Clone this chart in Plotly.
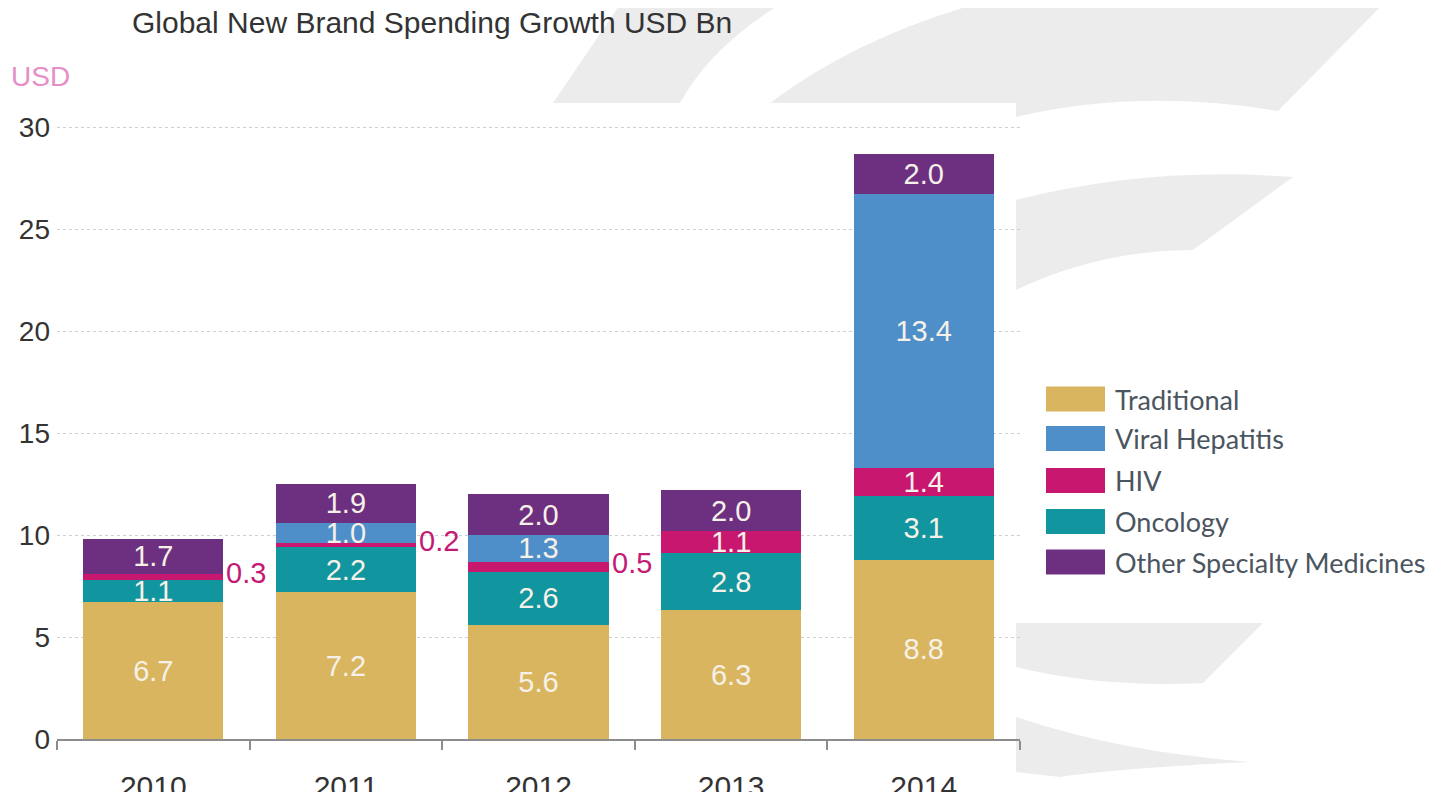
import plotly.graph_objects as go

# ---------------- data ----------------
years = ["2010", "2011", "2012", "2013", "2014"]
traditional = [6.7, 7.2, 5.6, 6.3, 8.8]
oncology = [1.1, 2.2, 2.6, 2.8, 3.1]
hiv = [0.3, 0.2, 0.5, 1.1, 1.4]
viral_hepatitis = [0.0, 1.0, 1.3, 0.0, 13.4]
other_specialty = [1.7, 1.9, 2.0, 2.0, 2.0]
hiv_label_outside = [True, True, True, False, False]
y_ticks = [0, 5, 10, 15, 20, 25, 30]

legend_order = ["Traditional", "Viral Hepatitis", "HIV", "Oncology", "Other Specialty Medicines"]
colors = {
    "Traditional": "#d9b560",
    "Viral Hepatitis": "#4f8fc9",
    "HIV": "#c8176f",
    "Oncology": "#11959f",
    "Other Specialty Medicines": "#6d2f80",
}
stack = [
    ("Traditional", traditional),
    ("Oncology", oncology),
    ("HIV", hiv),
    ("Viral Hepatitis", viral_hepatitis),
    ("Other Specialty Medicines", other_specialty),
]

# ---------------- layout geometry ----------------
# the page body adds an 8px margin, so figure coordinates are offset by 8px
OFF = 8
W, H = 1445, 792
PLOT_L, PLOT_R, PLOT_T, PLOT_B = 57, 1020, 103, 739   # target screen pixels
ML = PLOT_L - OFF
MT = PLOT_T - OFF
MR = W - (PLOT_R - OFF)
MB = H - (PLOT_B - OFF)
PW, PH = W - ML - MR, H - MT - MB
YMAX = 31.18


def px(x, y):
    """screen pixel -> paper coordinate"""
    return (x - OFF - ML) / PW, (H - MB - (y - OFF)) / PH


def path(cmds):
    out = []
    for c in cmds:
        if isinstance(c, str):
            out.append(c)
        else:
            xx, yy = px(*c)
            out.append(f"{xx:.4f},{yy:.4f}")
    return " ".join(out)


LABEL_FONT = "Liberation Sans, Arial, sans-serif"

fig = go.Figure()

for name, vals in stack:
    texts = []
    for i, v in enumerate(vals):
        if v == 0 or (name == "HIV" and hiv_label_outside[i]):
            texts.append("")
        else:
            texts.append(f"{v:.1f}")
    fig.add_trace(go.Bar(
        x=years, y=vals, name=name,
        marker=dict(color=colors[name], line=dict(width=0)),
        text=texts, textposition="inside", insidetextanchor="middle",
        textangle=0,
        textfont=dict(family=LABEL_FONT, size=29, color="#f6f1e8"),
        showlegend=False, hoverinfo="x+y+name",
    ))

annotations = []
# outside HIV labels (x given as category index)
for i, y in enumerate(years):
    if hiv_label_outside[i]:
        base = traditional[i] + oncology[i]
        annotations.append(dict(
            x=i, y=base + hiv[i] / 2, xref="x", yref="y",
            text=f"{hiv[i]:.1f}", showarrow=False, xanchor="left", yanchor="middle",
            xshift=71, yshift=4,
            font=dict(family=LABEL_FONT, size=29, color="#c21a75"),
        ))

# title and unit label
tx, ty = px(130, 22)
annotations.append(dict(x=tx, y=ty, xref="paper", yref="paper", xanchor="left", yanchor="middle",
                        text="Global New Brand Spending Growth USD Bn", showarrow=False,
                        font=dict(family=LABEL_FONT, size=30, color="#333333")))
ux, uy = px(9, 77)
annotations.append(dict(x=ux, y=uy, xref="paper", yref="paper", xanchor="left", yanchor="middle",
                        text="USD", showarrow=False,
                        font=dict(family=LABEL_FONT, size=28, color="#e58fc6")))

shapes = []
grey = "#ececec"
# decorative background swooshes
swooshes = [
    ["M", (553, 103), "L", (623, 0), "L", (787, 0), "Q", (712, 45), (680, 103), "Z"],
    ["M", (770, 103), "Q", (860, 35), (990, 0), "L", (1387, 0), "L", (1278, 111),
     "Q", (1140, 88), (1016, 117), "L", (1016, 103), "Z"],
    ["M", (1016, 200), "Q", (1150, 166), (1293, 177), "L", (1193, 250),
     "Q", (1100, 250), (1016, 290), "Z"],
    ["M", (1016, 623), "L", (1263, 623), "L", (1203, 683), "Q", (1100, 688), (1016, 667), "Z"],
    ["M", (1016, 717), "Q", (1120, 752), (1250, 762), "Q", (1120, 768), (1060, 777),
     "L", (1016, 772), "Z"],
]
for s in swooshes:
    shapes.append(dict(type="path", xref="paper", yref="paper", path=path(s),
                       fillcolor=grey, line=dict(width=0), layer="below"))
# white plot panel
x0, y0 = px(50, 800)
x1, y1 = px(1016, 103)
shapes.append(dict(type="rect", xref="paper", yref="paper", x0=x0, y0=y0, x1=x1, y1=y1,
                   fillcolor="white", line=dict(width=0), layer="below"))

# custom legend (large swatches)
leg_y = [399, 438.5, 480.5, 521.5, 562]
for name, cy in zip(legend_order, leg_y):
    a0, b0 = px(1046, cy + 12.5)
    a1, b1 = px(1105, cy - 12.5)
    shapes.append(dict(type="rect", xref="paper", yref="paper", x0=a0, y0=b0, x1=a1, y1=b1,
                       fillcolor=colors[name], line=dict(width=0)))
    lx, ly = px(1113, cy)
    annotations.append(dict(x=lx, y=ly, xref="paper", yref="paper", xanchor="left", yanchor="middle",
                            text=name, showarrow=False,
                            font=dict(family="Lato, Noto Sans, sans-serif", size=27, color="#4b5560")))

fig.update_layout(
    width=W, height=H,
    margin=dict(l=ML, r=MR, t=MT, b=MB, autoexpand=False),
    paper_bgcolor="white", plot_bgcolor="rgba(0,0,0,0)",
    barmode="stack", bargap=0.273,
    uniformtext=dict(minsize=29, mode="show"),
    annotations=annotations, shapes=shapes,
    showlegend=False,
    xaxis=dict(
        type="category", range=[-0.5, 4.5], autorange=False, automargin=False,
        showgrid=False, showline=True, linecolor="#8c8c8c", linewidth=2,
        ticks="outside", tickson="boundaries", ticklen=9, tickwidth=2, tickcolor="#8c8c8c",
        tickangle=0, ticklabelstandoff=20,
        tickfont=dict(family=LABEL_FONT, size=30, color="#333333"),
    ),
    yaxis=dict(
        range=[0, YMAX], autorange=False, automargin=False, tickvals=y_ticks,
        showline=False, zeroline=False,
        showgrid=True, gridcolor="#cfcfcf", griddash="dot", gridwidth=1,
        ticks="", ticklabelstandoff=6,
        tickfont=dict(family=LABEL_FONT, size=28, color="#333333"),
    ),
)

fig.write_html("out.html")
